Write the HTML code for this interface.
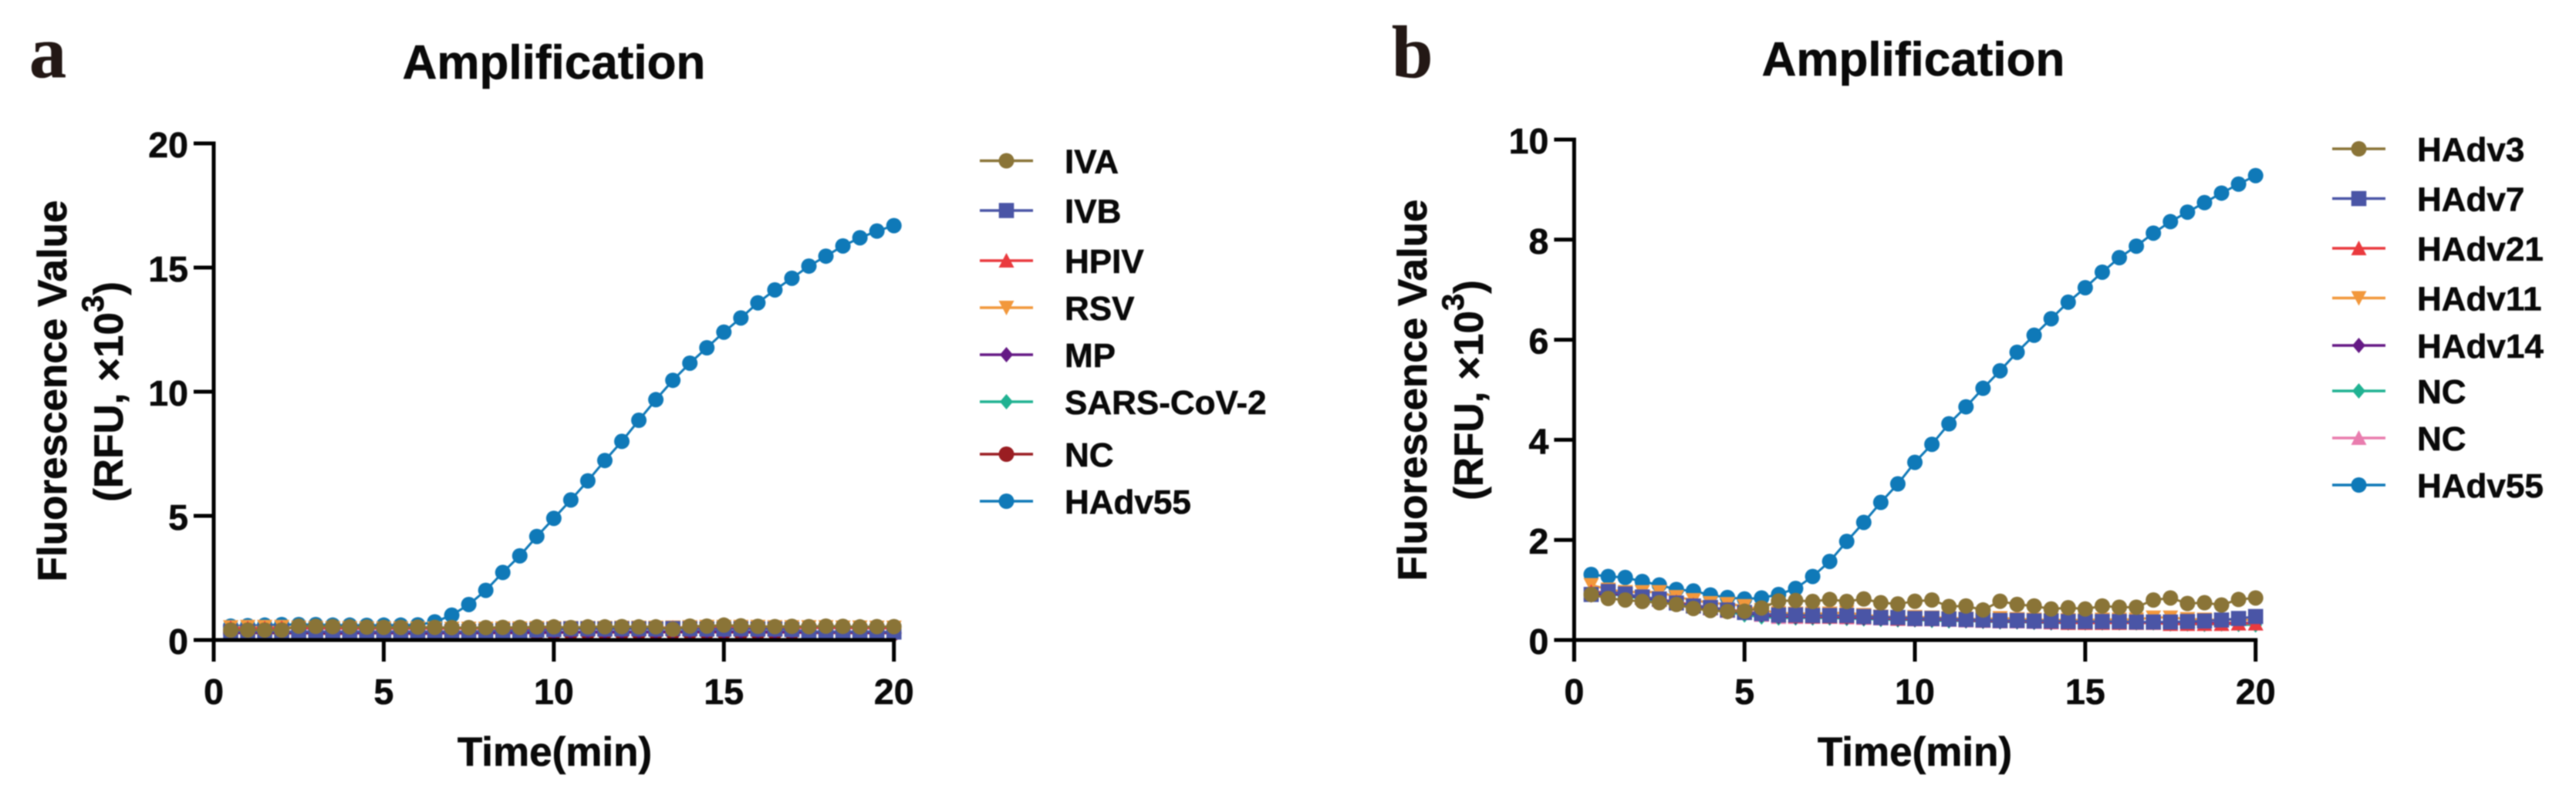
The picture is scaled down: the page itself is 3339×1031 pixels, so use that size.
<!DOCTYPE html>
<html lang="en">
<head>
<meta charset="utf-8">
<title>Amplification curves</title>
<style>
html,body{margin:0;padding:0;background:#fff;width:3339px;height:1031px;overflow:hidden}
svg{display:block;filter:blur(.7px)}
text{font-family:"Liberation Sans",Arial,sans-serif;font-weight:700;fill:#0a0a0a;stroke:#0a0a0a;stroke-width:.6px}
.letter{font-family:"Liberation Serif","Times New Roman",serif;font-size:96px;fill:#231815;stroke:#231815}
.title{font-size:62px;text-anchor:middle}
.axt{font-size:53px;text-anchor:middle}
.tick{font-size:46.5px}
.leg{font-size:44px}
</style>
</head>
<body>
<svg id="fig" xmlns="http://www.w3.org/2000/svg" width="3339" height="1031" viewBox="0 0 3339 1031">
  <rect width="3339" height="1031" fill="#fff"/>
  <text class="letter" x="38" y="100">a</text>
  <text class="letter" x="1804" y="100">b</text>
  <text class="title" x="718" y="102">Amplification</text>
  <text class="title" x="2480" y="98">Amplification</text>
  <text class="axt" x="719" y="993">Time(min)</text>
  <text class="axt" x="2482" y="993">Time(min)</text>
  <text class="axt" transform="translate(86 507) rotate(-90)">Fluorescence Value</text>
  <text class="axt" transform="translate(159 508) rotate(-90)">(RFU, ×10<tspan font-size="40" dy="-25">3</tspan><tspan dy="25">)</tspan></text>
  <text class="axt" transform="translate(1849 506) rotate(-90)">Fluorescence Value</text>
  <text class="axt" transform="translate(1922 506) rotate(-90)">(RFU, ×10<tspan font-size="40" dy="-25">3</tspan><tspan dy="25">)</tspan></text>
</svg>
<script>
// Shared time axis values (minutes)
const timeMin = [0.5,1,1.5,2,2.5,3,3.5,4,4.5,5,5.5,6,6.5,7,7.5,8,8.5,9,9.5,10,10.5,11,11.5,12,12.5,13,13.5,14,14.5,15,15.5,16,16.5,17,17.5,18,18.5,19,19.5,20];
const xTickLabels = [0,5,10,15,20];
const aYTickLabels = [0,5,10,15,20];
const bYTickLabels = [0,2,4,6,8,10];

// Panel a series (RFU x10^3)
const aIVA     = [.40,.40,.40,.40,.56,.55,.54,.53,.52,.51,.51,.52,.51,.50,.50,.50,.51,.51,.53,.53,.50,.53,.53,.54,.53,.53,.43,.56,.56,.60,.57,.55,.54,.55,.54,.56,.55,.53,.54,.54];
const aIVB     = [.34,.34,.34,.34,.34,.34,.34,.34,.34,.34,.34,.34,.34,.34,.34,.36,.38,.38,.40,.42,.45,.45,.44,.45,.45,.44,.46,.45,.44,.44,.45,.44,.44,.42,.34,.34,.34,.34,.34,.32];
const aHPIV    = [.48,.47,.47,.48,.47,.46,.47,.46,.46,.46,.46,.46,.46,.46,.47,.47,.47,.47,.48,.48,.48,.48,.48,.49,.49,.49,.49,.50,.50,.50,.50,.50,.49,.49,.49,.48,.48,.48,.47,.47];
const aRSV     = [.52,.53,.53,.53,.50,.49,.48,.48,.47,.47,.47,.47,.47,.46,.46,.46,.47,.47,.48,.48,.49,.49,.49,.50,.50,.50,.51,.52,.53,.53,.53,.53,.52,.52,.52,.52,.51,.51,.50,.50];
const aMP      = [.30,.30,.30,.30,.30,.30,.29,.29,.29,.29,.29,.29,.29,.29,.29,.30,.30,.30,.31,.31,.32,.33,.33,.33,.33,.33,.34,.34,.34,.34,.33,.33,.33,.32,.31,.31,.30,.30,.30,.30];
const aSARS    = [.32,.32,.32,.31,.31,.31,.31,.30,.30,.30,.30,.30,.30,.31,.31,.31,.31,.32,.32,.32,.33,.33,.34,.34,.34,.34,.35,.35,.35,.35,.34,.34,.34,.33,.33,.32,.32,.32,.32,.31];
const aNC      = [.28,.28,.28,.27,.27,.27,.24,.27,.27,.27,.27,.24,.27,.27,.27,.28,.28,.28,.29,.29,.30,.30,.30,.30,.30,.31,.31,.31,.31,.31,.30,.30,.30,.30,.29,.29,.29,.28,.28,.28];
const aHAdv55  = [.56,.58,.60,.62,.62,.62,.60,.60,.59,.60,.60,.61,.73,1.0,1.43,2.0,2.72,3.39,4.17,4.9,5.64,6.41,7.23,8.0,8.85,9.68,10.46,11.15,11.77,12.4,12.97,13.58,14.1,14.57,15.06,15.46,15.87,16.2,16.47,16.69];
const aNames   = ["IVA","IVB","HPIV","RSV","MP","SARS-CoV-2","NC","HAdv55"];

// Panel b series (RFU x10^3)
const bHAdv3   = [.91,.83,.80,.77,.745,.71,.63,.59,.57,.575,.64,.78,.79,.77,.81,.77,.82,.745,.72,.775,.80,.67,.68,.60,.775,.71,.68,.62,.645,.62,.68,.655,.655,.80,.84,.73,.745,.70,.81,.84];
const bHAdv7   = [.91,.97,.92,.86,.82,.74,.68,.65,.60,.55,.53,.50,.50,.49,.49,.49,.47,.45,.45,.43,.43,.42,.41,.40,.39,.39,.38,.38,.37,.37,.37,.37,.36,.36,.36,.37,.38,.40,.43,.47];
const bHAdv21  = [.96,.96,.92,.86,.82,.76,.70,.65,.61,.57,.53,.49,.48,.47,.47,.47,.46,.44,.43,.42,.42,.41,.40,.39,.38,.38,.37,.36,.34,.34,.34,.34,.34,.34,.32,.32,.32,.32,.33,.33];
const bHAdv11  = [1.10,1.01,.96,.96,.96,.86,.80,.74,.72,.68,.60,.54,.53,.53,.53,.55,.50,.47,.46,.46,.45,.44,.43,.41,.44,.42,.41,.40,.40,.40,.41,.41,.41,.45,.45,.42,.41,.40,.40,.40];
const bHAdv14  = [.90,.93,.90,.84,.80,.74,.68,.63,.58,.54,.50,.47,.46,.46,.46,.45,.44,.43,.42,.41,.41,.40,.39,.38,.37,.37,.36,.35,.35,.35,.35,.35,.35,.35,.34,.34,.34,.34,.34,.34];
const bNCa     = [.90,.92,.88,.82,.78,.72,.66,.61,.56,.50,.46,.44,.44,.44,.44,.43,.42,.41,.40,.40,.39,.38,.38,.37,.36,.36,.35,.34,.34,.34,.34,.34,.34,.34,.32,.32,.31,.32,.31,.30];
const bNCb     = [.94,.94,.90,.84,.80,.74,.68,.63,.58,.54,.50,.46,.46,.46,.46,.45,.44,.43,.42,.41,.41,.40,.39,.38,.37,.37,.36,.35,.35,.35,.35,.35,.35,.35,.33,.33,.33,.33,.33,.33];
const bHAdv55  = [1.31,1.27,1.25,1.17,1.10,1.01,.98,.90,.85,.82,.84,.91,1.03,1.27,1.57,1.97,2.35,2.75,3.12,3.55,3.91,4.32,4.66,5.03,5.38,5.75,6.09,6.42,6.75,7.04,7.35,7.64,7.87,8.13,8.36,8.55,8.74,8.93,9.11,9.28];
const bNames   = ["HAdv3","HAdv7","HAdv21","HAdv11","HAdv14","NC","NC","HAdv55"];

// Series styling, in legend order
const aColors = ["#8a7437","#4a55a6","#ea3a3e","#f2983c","#651a85","#20b292","#9a1d22","#0f79b8"];
const bColors = ["#8a7437","#4a55a6","#ea3a3e","#f2983c","#651a85","#20b292","#e97cae","#0f79b8"];
const aShapes = ["circle","square","up","down","diamond","diamond","circle","circle"];
const bShapes = ["circle","square","up","down","diamond","diamond","up","circle"];

const NS = "http://www.w3.org/2000/svg";
const fig = document.getElementById("fig");

function mk(tag, attrs, parent){
  const el = document.createElementNS(NS, tag);
  for (const k in attrs) el.setAttribute(k, attrs[k]);
  (parent || fig).appendChild(el);
  return el;
}

function drawMarker(shape, cx, cy, color, parent){
  let el;
  if (shape === "circle") {
    el = mk("circle", {cx:cx, cy:cy, r:10, fill:color}, parent);
  } else if (shape === "square") {
    el = mk("rect", {x:cx-9.8, y:cy-9.8, width:19.6, height:19.6, fill:color}, parent);
  } else if (shape === "up") {
    el = mk("polygon", {points:(cx-10)+","+(cy+9)+" "+(cx+10)+","+(cy+9)+" "+cx+","+(cy-10), fill:color}, parent);
  } else if (shape === "down") {
    el = mk("polygon", {points:(cx-10)+","+(cy-9)+" "+(cx+10)+","+(cy-9)+" "+cx+","+(cy+10), fill:color}, parent);
  } else {
    el = mk("polygon", {points:cx+","+(cy-10)+" "+(cx+8.5)+","+cy+" "+cx+","+(cy+10)+" "+(cx-8.5)+","+cy, fill:color}, parent);
  }
  
  
  return el;
}

function drawPanel(p){
  const xScale = function(v){ return p.x0 + (p.x1 - p.x0) * v / 20; };
  const yScale = function(v){ return p.y0 + (p.y1 - p.y0) * v / p.yMax; };

  // series, last legend entry drawn first so IVA / HAdv3 sits on top
  for (let s = p.series.length - 1; s >= 0; s--) {
    const g = mk("g", {});
    
    
    const vals = p.series[s];
    const pts = vals.map(function(v, i){ return xScale(timeMin[i]).toFixed(1) + "," + yScale(v).toFixed(1); }).join(" ");
    const line = mk("polyline", {points:pts, fill:"none", stroke:p.colors[s], "stroke-width":3}, g);
    
    
    vals.forEach(function(v, i){ drawMarker(p.shapes[s], xScale(timeMin[i]), yScale(v), p.colors[s], g); });
  }

  // axes
  const yAxis = mk("line", {x1:p.x0, x2:p.x0, y1:p.y1-2.5, y2:p.y0+28, stroke:"#000", "stroke-width":5});
  
  
  const xAxis = mk("line", {x1:p.x0-26, x2:p.x1+2.5, y1:p.y0, y2:p.y0, stroke:"#000", "stroke-width":5});
  
  

  xTickLabels.forEach(function(t){
    const x = xScale(t);
    const tk = mk("line", {x1:x, x2:x, y1:p.y0, y2:p.y0+28, stroke:"#000", "stroke-width":5});
    
    
    const tx = mk("text", {x:x, y:913, "class":"tick", "text-anchor":"middle"});
    
    
    tx.textContent = t;
  });

  p.yTicks.forEach(function(t){
    const y = yScale(t);
    if (t !== 0) {
      const tk = mk("line", {x1:p.x0-26, x2:p.x0, y1:y, y2:y, stroke:"#000", "stroke-width":5});
      
      
    }
    const tx = mk("text", {x:p.x0-33, y:y+18, "class":"tick", "text-anchor":"end"});
    
    
    tx.textContent = t;
  });

  // legend
  p.names.forEach(function(n, i){
    const g = mk("g", {});
    
    
    const y = p.legendY[i];
    const ln = mk("line", {x1:p.legX, x2:p.legX+69, y1:y, y2:y, stroke:p.colors[i], "stroke-width":3.5}, g);
    
    
    drawMarker(p.shapes[i], p.legX+34.5, y, p.colors[i], g);
    const tx = mk("text", {x:p.legText, y:y+16, "class":"leg"}, g);
    
    
    tx.textContent = n;
  });
}

drawPanel({
  id:"panel-a", x0:277, x1:1158.7, y0:830, y1:186, yMax:20,
  yTicks:aYTickLabels, names:aNames, colors:aColors, shapes:aShapes,
  series:[aIVA,aIVB,aHPIV,aRSV,aMP,aSARS,aNC,aHAdv55],
  legX:1270, legText:1380, legendY:[208.5,273,338,399,460,521,589,650]
});
drawPanel({
  id:"panel-b", x0:2040.4, x1:2923.7, y0:830, y1:181, yMax:10,
  yTicks:bYTickLabels, names:bNames, colors:bColors, shapes:bShapes,
  series:[bHAdv3,bHAdv7,bHAdv21,bHAdv11,bHAdv14,bNCa,bNCb,bHAdv55],
  legX:3023, legText:3133, legendY:[193,257.5,322,386.5,448,507,568,629]
});
</script>
</body>
</html>
